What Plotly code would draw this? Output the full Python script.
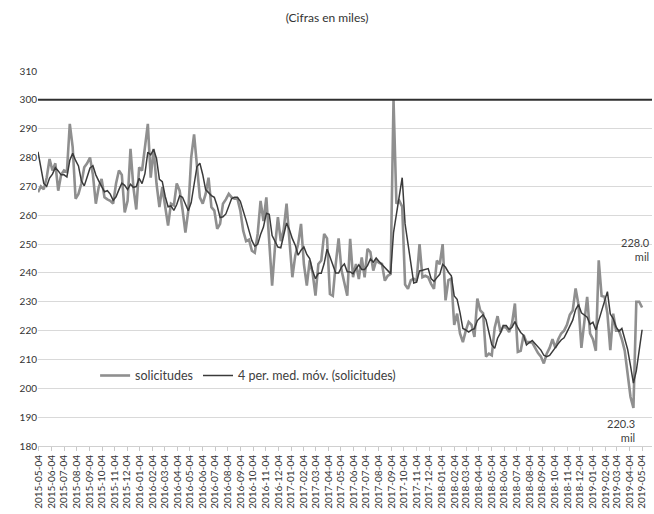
import pandas as pd
import plotly.graph_objects as go

# Weekly initial claims (thousands), weeks ending 2015-05-02 .. 2019-05-04
solicitudes = [
    268, 270,
    269, 273, 279.5, 275.5, 278, 268.5, 274, 275.5, 275, 291.7,
    283.6, 265.7, 267.4, 271, 276.6, 278, 280, 274, 264, 269.7,
    272.6, 266.2, 265.5, 265, 264, 271, 275.5, 274, 261, 265,
    283, 269.7, 262, 276.6, 275.5, 283.6, 291.7, 273, 283, 271,
    262.8, 269.7, 262.8, 256.4, 264, 263.4, 271, 268.5, 262, 254,
    261.6, 280, 288, 278, 266.2, 264, 267.4, 273, 262.8, 261.6,
    255.3, 257, 264, 265.5, 267.4, 266.2, 265.7, 265.7, 261.6, 254.6,
    251,
    251.5, 247.7, 247, 253.5, 265, 258, 266.2, 252, 235.6, 249,
    259.3, 251, 255, 264, 250, 238.5, 246, 250, 257, 243,
    235.6, 244.3, 240, 232.1, 243.1, 244.3, 253.5, 252, 232.7, 232.1,
    243, 252, 241, 236.5, 232.1, 251.8, 238.5, 243.1, 237.9, 245.4,
    238.5, 248.3, 247.2, 240.8, 244.3, 243.5, 243.1, 237.3, 239, 239.6,
    300, 264, 265, 263, 236, 234.5, 237.5, 238, 237.3, 250,
    238.5, 239, 238.5, 236.2, 234.5, 244.3,
    243, 250, 230.5, 237.5, 238, 222, 225.9, 219, 216, 220,
    223, 222, 217.8, 231.1, 227, 226, 211, 212, 211.4, 221,
    225, 219.5, 221.5, 221, 219.5, 222.5, 229.4, 212.6, 213, 218.5,
    216, 216, 215.8, 214, 212.2, 211, 208.6, 212, 214, 217,
    214, 217, 219, 220, 222, 225.5, 227, 234.6, 229, 214,
    224, 231.7, 219, 217, 213, 244.4, 232, 231.7, 226, 213.2,
    225.9, 220, 220, 217, 213, 204, 197, 193.2, 230, 230, 228,
]
# first moving-average values (window extends before the shown data)
ma_head = [282, 276, 271]

last_week = "2019-05-04"
tick_start, tick_end = "2015-05-04", "2019-05-04"

dates = pd.date_range(end=last_week, periods=len(solicitudes), freq="7D")
s = pd.Series(solicitudes, index=dates)
ma = s.rolling(4).mean()
ma.iloc[:len(ma_head)] = ma_head

tickvals = pd.date_range(tick_start, tick_end, freq=pd.DateOffset(months=1))

fig = go.Figure()
fig.add_trace(go.Scatter(x=dates, y=s.values, mode="lines", name="solicitudes",
                         line=dict(color="#8f8f8f", width=2.6)))
fig.add_trace(go.Scatter(x=dates, y=ma.values, mode="lines",
                         name="4 per. med. móv. (solicitudes)",
                         line=dict(color="#3a3a3a", width=1.5)))

fig.add_shape(type="line", xref="paper", yref="y", x0=0, x1=1, y0=300, y1=300,
              line=dict(color="#2f2f2f", width=2))

fig.add_annotation(text="228.0<br>mil", xref="paper", yref="y", x=1.0, y=248,
                   xanchor="right", yanchor="middle", align="right", showarrow=False,
                   font=dict(size=11, color="#404040"))
fig.add_annotation(text="220.3<br>mil", xref="paper", yref="y", x=0.975, y=185.3,
                   xanchor="right", yanchor="middle", align="right", showarrow=False,
                   font=dict(size=11, color="#404040"))

fig.update_layout(
    width=654, height=514,
    margin=dict(l=38, r=2, t=71, b=68),
    paper_bgcolor="white", plot_bgcolor="white",
    font=dict(family="Lato, 'Open Sans', sans-serif", color="#404040"),
    title=dict(text="(Cifras en miles)", x=0.5, xanchor="center", y=0.965, yanchor="middle",
               font=dict(size=12, color="#333333")),
    legend=dict(orientation="h", x=0.093, y=0.187, xanchor="left", yanchor="middle",
                bgcolor="rgba(0,0,0,0)", font=dict(size=12.5, color="#404040"),
                itemwidth=30, tracegroupgap=0),
    showlegend=True,
)
fig.update_xaxes(
    type="date", range=["2015-05-02", "2019-05-28"],
    tickvals=tickvals, tickformat="%Y-%m-%d", tickangle=-90,
    tickfont=dict(size=10, color="#333333"),
    showgrid=False, showline=True, linecolor="#d0d0d0", linewidth=1,
    ticks="outside", ticklen=4, tickcolor="#c8c8c8",
)
fig.update_yaxes(
    range=[180, 310], dtick=10, tick0=180,
    tickfont=dict(size=10, color="#333333"),
    showgrid=True, gridcolor="#d9d9d9", gridwidth=1, zeroline=False,
    showline=False,
)

fig.write_html("out.html", config={"displayModeBar": False},
               post_script="document.body.style.margin='0';document.body.style.overflow='hidden';")
